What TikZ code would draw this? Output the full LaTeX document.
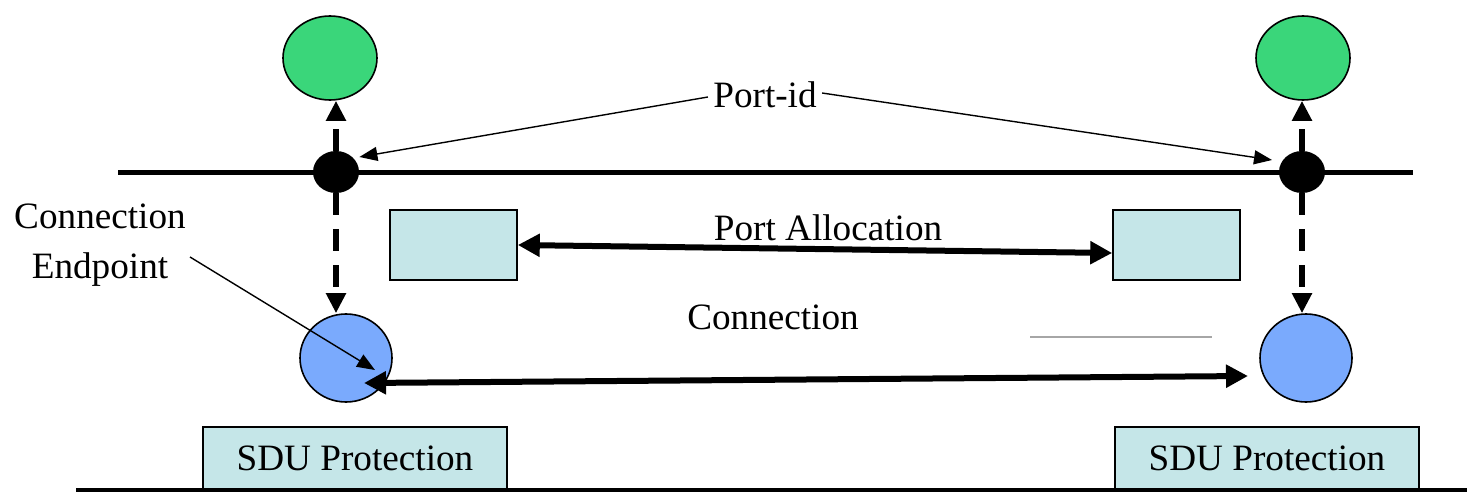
\documentclass[tikz,border=0pt]{standalone}
\usepackage{fontspec}
\setmainfont{Liberation Serif}
\usetikzlibrary{arrows.meta,shapes.geometric}
\definecolor{grn}{HTML}{3AD67A}
\definecolor{blu}{HTML}{7AAAFD}
\definecolor{box}{HTML}{C5E6E8}
\tikzset{
  lbl/.style={font=\fontsize{18.6}{22}\selectfont, inner sep=0pt},
  greenc/.style={ellipse, draw=black, line width=0.8pt, fill=grn, minimum width=47pt, minimum height=42pt, inner sep=0pt},
  bluec/.style={ellipse, draw=black, line width=0.8pt, fill=blu, minimum width=46pt, minimum height=44pt, inner sep=0pt},
  dot/.style={ellipse, fill=black, minimum width=23pt, minimum height=21pt, inner sep=0pt},
  pbox/.style={draw=black, line width=0.8pt, fill=box, minimum width=63.5pt, minimum height=35pt, inner sep=0pt},
  sdubox/.style={draw=black, line width=0.8pt, fill=box, minimum width=152pt, minimum height=31.5pt, inner sep=0pt, font=\fontsize{18.6}{22}\selectfont},
  thickline/.style={line width=2.5pt},
  dashv/.style={line width=3pt, dash pattern=on 11pt off 7pt, -{Triangle[length=10pt,width=9.5pt]}},
  bigarr/.style={line width=3pt, {Triangle[length=11pt,width=11pt]}-{Triangle[length=11pt,width=11pt]}},
  thinarr/.style={line width=0.7pt, -{Triangle[length=9pt,width=7pt]}},
}
\begin{document}
\begin{tikzpicture}[x=0.5pt,y=-0.5pt]
\useasboundingbox (0,0) rectangle (1467,492);
% top line
\coordinate (tl) at (118,172);
\coordinate (tr) at (1413,172);
\draw[thickline] (tl) -- (tr);
% bottom line
\coordinate (bl) at (76,490);
\coordinate (br) at (1467,490);
% boxes
\node[sdubox] (sduL) at (355,458.5) {SDU Protection};
\node[sdubox] (sduR) at (1267,458.5) {SDU Protection};
\draw[thickline] (bl) -- (br);
\node[pbox] (pbL) at (453.5,245) {};
\node[pbox] (pbR) at (1176.5,245) {};
% circles
\node[greenc] (gL) at (330,58) {};
\node[greenc] (gR) at (1303,58) {};
\node[bluec] (bL) at (346,358) {};
\node[bluec] (bR) at (1306,358) {};
\node[dot] (dL) at (336,172) {};
\node[dot] (dR) at (1302,172) {};
% dashed vertical arrows
\draw[dashv] (dL.north) -- (dL.north |- gL.south);
\draw[dashv] (dL.south) -- (dL.south |- bL.north);
\draw[dashv] (dR.north) -- (dR.north |- gR.south);
\draw[dashv] (dR.south) -- (dR.south |- bR.north);
\draw[line width=3pt] (dL.north) -- ++(0,-8);
\draw[line width=3pt] (dL.south) -- ++(0,8);
\draw[line width=3pt] (dR.north) -- ++(0,-8);
\draw[line width=3pt] (dR.south) -- ++(0,8);
% port allocation
\draw[bigarr] (pbL.east) -- (pbR.west |- 0,253);
\node[lbl] (pa) at (828,228) {Port Allocation};
% connection
\coordinate (cS) at (364,383);
\coordinate (cE) at (1248,376);
\draw[bigarr] (cS) -- (cE);
\node[lbl] (conn) at (773,317) {Connection};
\coordinate (g1) at (1030,337);
\coordinate (g2) at (1212,337);
\draw[line width=0.6pt, draw=gray!70] (g1) -- (g2);
% port-id
\node[lbl] (pid) at (765,95) {Port-id};
\draw[thinarr] (pid.west) ++(-5,2) -- (dL.east |- 0,157);
\draw[thinarr] (pid.east) ++(5,-2) -- (1272,160);
% connection endpoint
\node[lbl, align=center] (ce) at (100,245) {Connection\\[3pt]Endpoint};
\draw[thinarr] (190,257) -- (375,370);
\end{tikzpicture}
\end{document}
